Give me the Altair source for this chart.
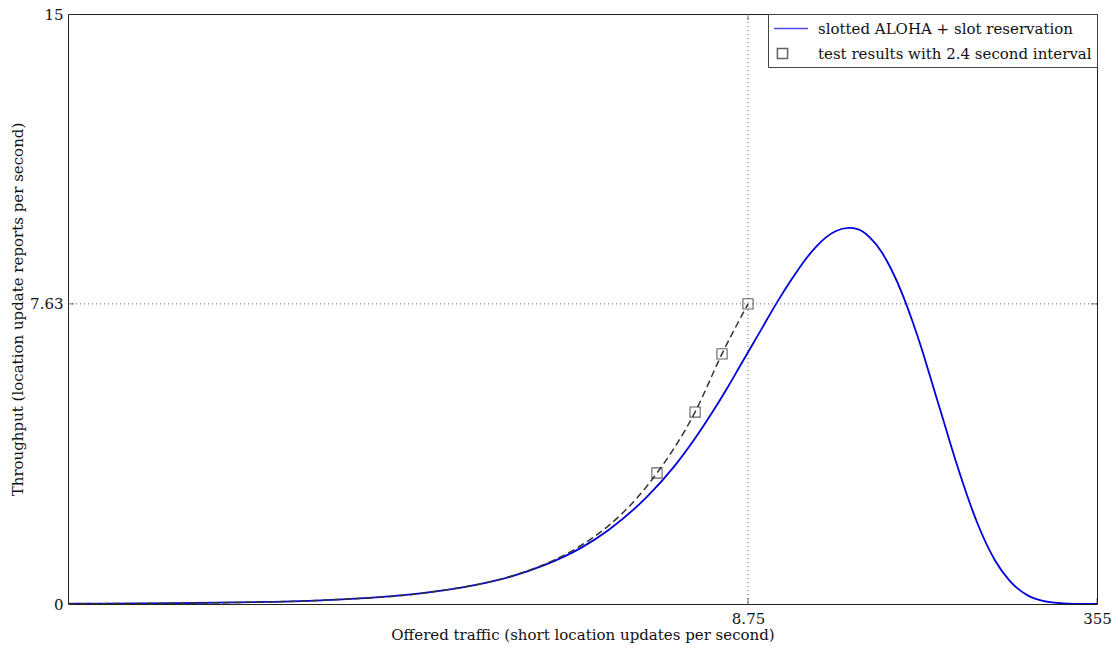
import altair as alt
import pandas as pd

# ---- data ----
model_x = [0.0065, 0.01, 0.02, 0.05, 0.1, 0.2, 0.3, 0.5, 0.7, 1, 1.5, 2, 3, 4, 5, 6, 7, 8, 8.75,
           10, 12, 14, 16, 18, 20, 22, 25.6, 28, 32, 36, 40, 45, 50, 55, 60, 70, 80, 90, 100,
           120, 140, 170, 200, 250, 300, 355]
model_y = [0.0066, 0.010, 0.020, 0.051, 0.101, 0.20, 0.30, 0.50, 0.69, 0.98, 1.44, 1.89, 2.73, 3.50,
           4.22, 4.88, 5.48, 6.03, 6.40, 6.95, 7.70, 8.28, 8.74, 9.08, 9.32, 9.47, 9.56, 9.53,
           9.31, 8.96, 8.51, 7.88, 7.20, 6.52, 5.84, 4.62, 3.57, 2.72, 2.04, 1.12, 0.60, 0.22,
           0.08, 0.015, 0.003, 0.0004]

test_x = [0.0065, 0.01, 0.03, 0.1, 0.3, 0.7, 1.0, 1.5, 2.0, 2.6, 3.33, 4.99, 6.64, 8.75]
test_y = [0.0065, 0.01, 0.03, 0.1, 0.3, 0.7, 1.0, 1.5, 2.0, 2.6, 3.33, 4.88, 6.36, 7.63]

marker_x = [3.33, 4.99, 6.64, 8.75]
marker_y = [3.33, 4.88, 6.36, 7.63]

series_names = ["slotted ALOHA + slot reservation", "test results with 2.4 second interval"]

x_ticks = [8.75, 355]
y_ticks = [0, 7.63, 15]
x_grid = [8.75]
y_grid = [7.63]
x_domain = [0.00643, 355]
y_domain = [0, 15]

FONT = "DejaVu Serif"
BLUE = "#0000dd"

model_df = pd.DataFrame({"x": model_x, "y": model_y})
test_df = pd.DataFrame({"x": test_x, "y": test_y})
mark_df = pd.DataFrame({"x": marker_x, "y": marker_y, "series": [series_names[1]] * len(marker_x)})
xg_df = pd.DataFrame({"x": x_grid})
yg_df = pd.DataFrame({"y": y_grid})
# inward tick marks on all four frame sides (MATLAB style box)
xt_df = pd.DataFrame({"x": [v for v in x_ticks for _ in y_domain], "y": [e for _ in x_ticks for e in y_domain]})
yt_df = pd.DataFrame({"x": [e for _ in y_ticks for e in x_domain], "y": [v for v in y_ticks for _ in x_domain]})

xscale = alt.Scale(type="log", domain=x_domain, nice=False)
yscale = alt.Scale(domain=y_domain, nice=False)

xaxis = alt.Axis(values=x_ticks, format=".3~g", title="Offered traffic (short location updates per second)",
                 grid=False, ticks=False, domain=False, labelFlush=False, labelPadding=7,
                 titlePadding=1, labelFont=FONT, titleFont=FONT, labelFontSize=15, titleFontSize=15,
                 titleFontWeight="normal", labelColor="#111", titleColor="#111")
yaxis = alt.Axis(values=y_ticks, format=".3~g", title="Throughput (location update reports per second)",
                 grid=False, ticks=False, domain=False, labelFlush=False, labelPadding=5,
                 titlePadding=4, labelFont=FONT, titleFont=FONT, labelFontSize=15, titleFontSize=15,
                 titleFontWeight="normal", labelColor="#111", titleColor="#111")

X = alt.X("x:Q", scale=xscale, axis=xaxis)
Y = alt.Y("y:Q", scale=yscale, axis=yaxis)

vgrid = alt.Chart(xg_df).mark_rule(color="#666", strokeDash=[1, 3], strokeWidth=1).encode(x=X)
hgrid = alt.Chart(yg_df).mark_rule(color="#666", strokeDash=[1, 3], strokeWidth=1).encode(y=Y)

xticks_m = alt.Chart(xt_df).mark_tick(orient="vertical", size=12, thickness=1, color="#333", clip=True).encode(x=X, y=Y)
yticks_m = alt.Chart(yt_df).mark_tick(orient="horizontal", size=12, thickness=1, color="#333", clip=True).encode(x=X, y=Y)

model_line = alt.Chart(model_df).mark_line(color=BLUE, strokeWidth=1.8, clip=True, interpolate="monotone").encode(
    x=X, y=Y, order="x:Q")
test_line = alt.Chart(test_df).mark_line(color="#333", strokeWidth=1.5, strokeDash=[7, 4], clip=True,
                                         interpolate="monotone").encode(x=X, y=Y, order="x:Q")

line_path = "M-1,0L3,0"
square_path = "M-0.6,-0.6L0.6,-0.6L0.6,0.6L-0.6,0.6Z"
legend = alt.Legend(title=None, orient="top-right", offset=0, fillColor="white", strokeColor="#444",
                    padding=5, labelFont=FONT, labelFontSize=15, labelColor="#111", symbolSize=289,
                    symbolStrokeWidth=1.5, labelOffset=26, rowPadding=7, labelLimit=500)
markers = alt.Chart(mark_df).mark_point(filled=False, size=289, strokeWidth=1.1, clip=True).encode(
    x=X, y=Y,
    color=alt.Color("series:N", scale=alt.Scale(domain=series_names, range=[BLUE, "#222"]), legend=legend),
    shape=alt.Shape("series:N", scale=alt.Scale(domain=series_names, range=[line_path, square_path]), legend=legend),
)

chart = alt.layer(vgrid, hgrid, xticks_m, yticks_m, model_line, test_line, markers).properties(
    width=1029, height=590,
    autosize=alt.AutoSizeParams(type="none"),
    padding={"left": 68, "top": 14, "right": 23, "bottom": 48},
    background="white",
).configure_view(stroke="#222", strokeWidth=1)

chart.save("out.html", embed_options={"renderer": "svg", "actions": False})
